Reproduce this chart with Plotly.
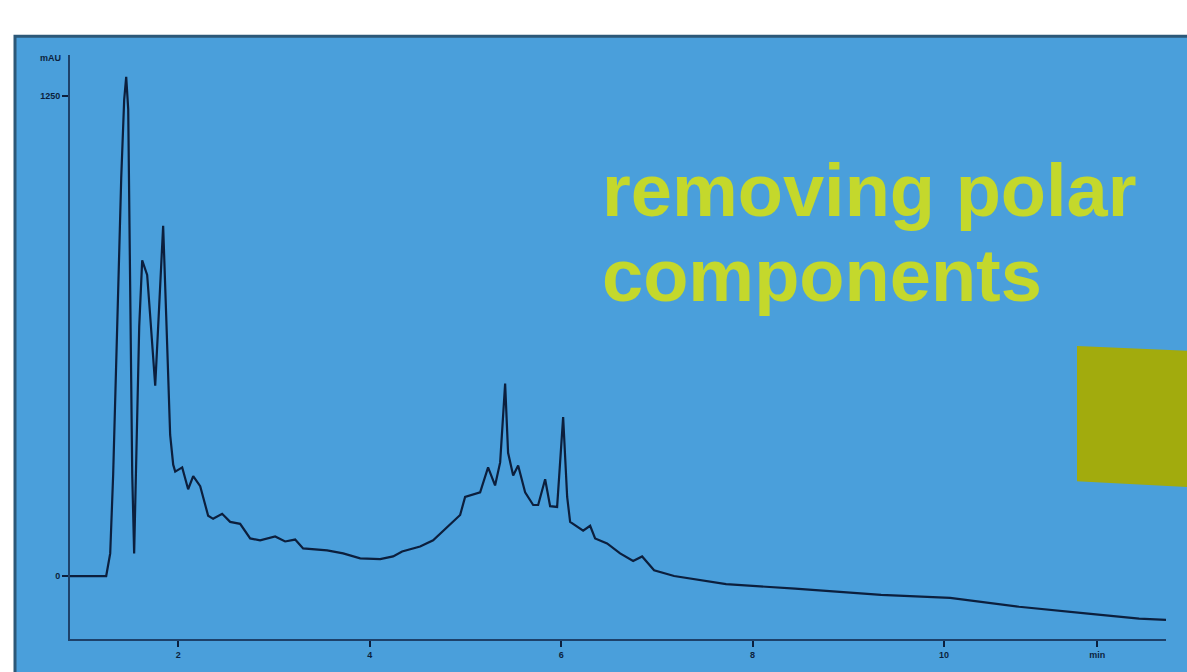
import plotly.graph_objects as go

# Retention time (min) and absorbance (mAU)
time_min = [0.87, 1.248, 1.290, 1.321, 1.363, 1.405, 1.436, 1.457, 1.478, 1.499, 1.520, 1.540,
            1.561, 1.593, 1.624, 1.676, 1.708, 1.760, 1.791, 1.843, 1.875, 1.916, 1.948, 1.969,
            2.042, 2.104, 2.157, 2.230, 2.313, 2.365, 2.459, 2.543, 2.647, 2.752, 2.856, 3.013,
            3.117, 3.222, 3.305, 3.556, 3.723, 3.901, 4.110, 4.245, 4.339, 4.527, 4.663, 4.945,
            4.997, 5.154, 5.237, 5.310, 5.363, 5.415, 5.446, 5.499, 5.551, 5.624, 5.708, 5.760,
            5.833, 5.885, 5.958, 6.021, 6.063, 6.094, 6.230, 6.303, 6.355, 6.480, 6.616, 6.752,
            6.846, 6.971, 7.180, 7.723, 8.444, 9.342, 10.063, 10.783, 11.504, 12.037, 12.318]
absorbance_mau = [0, 0, 59, 265, 650, 1036, 1241, 1300, 1216, 727, 265, 59,
                  265, 650, 822, 784, 676, 496, 650, 912, 676, 368, 290, 272,
                  283, 226, 260, 234, 157, 149, 162, 141, 136, 98, 93, 103,
                  90, 95, 72, 67, 59, 46, 44, 51, 64, 77, 93, 159,
                  206, 218, 283, 236, 296, 501, 321, 262, 288, 218, 185, 185,
                  252, 182, 180, 414, 206, 141, 118, 131, 98, 85, 59, 39,
                  51, 15, 0, -21, -33, -49, -57, -80, -98, -111, -114]

x_tick_vals = [2, 4, 6, 8, 10, 11.6]
x_tick_text = ["2", "4", "6", "8", "10", "min"]
y_tick_vals = [0, 1250]
y_tick_text = ["0", "1250"]
title_lines = ["removing polar", "components"]

BLUE = "#4a9fdb"
INK = "#0c1f3d"
AXIS = "#1d416a"
TEXT_COL = "#c4d82c"

fig = go.Figure()
fig.add_trace(go.Scatter(x=time_min, y=absorbance_mau, mode="lines",
                         line=dict(color=INK, width=2.2), hoverinfo="skip"))

W, H = 1187, 672
L, R, T, B = 70, 21, 55, 25
pw, ph = W - L - R, H - T - B


def px(xp):
    return (xp - L) / pw


def py(yp):
    return (H - B - yp) / ph


shapes = [
    dict(type="rect", xref="paper", yref="paper", x0=px(15), x1=px(1200), y0=py(690), y1=py(36),
         fillcolor=BLUE, line=dict(color="#2c5878", width=3), layer="below"),
    dict(type="path", xref="paper", yref="paper",
         path=f"M {px(1077)} {py(350)} L {px(1190)} {py(355)} L {px(1190)} {py(493)} L {px(1077)} {py(487)} Z",
         fillcolor="#a2ab0d", line=dict(width=0), layer="above"),
]

title_font = dict(family="Liberation Sans, Arial", size=74, color=TEXT_COL)
annotations = [
    dict(text=f"<b>{title_lines[0]}</b>", xref="paper", yref="paper", x=px(600), y=py(192),
         xanchor="left", yanchor="middle", showarrow=False, font=title_font),
    dict(text=f"<b>{title_lines[1]}</b>", xref="paper", yref="paper", x=px(600), y=py(279),
         xanchor="left", yanchor="middle", showarrow=False, font=title_font),
    dict(text="<b>mAU</b>", xref="paper", yref="paper", x=px(63), y=py(58), xanchor="right",
         yanchor="middle", showarrow=False,
         font=dict(family="Liberation Sans, Arial", size=9, color=INK)),
]

tick_font = dict(family="Liberation Sans, Arial", size=9, color=INK, weight="bold")

fig.update_layout(
    width=W, height=H,
    margin=dict(l=L, r=R, t=T, b=B),
    paper_bgcolor="white",
    plot_bgcolor="rgba(0,0,0,0)",
    showlegend=False,
    shapes=shapes,
    annotations=annotations,
    xaxis=dict(range=[0.87, 12.318], showgrid=False, zeroline=False, showline=True,
               linecolor=AXIS, linewidth=2, ticks="outside", ticklen=6, tickwidth=2,
               tickcolor=INK, tickvals=x_tick_vals, ticktext=x_tick_text, tickfont=tick_font),
    yaxis=dict(range=[-164, 1357], showgrid=False, zeroline=False, showline=True,
               linecolor=AXIS, linewidth=2, ticks="outside", ticklen=6, tickwidth=2,
               tickcolor=INK, tickvals=y_tick_vals, ticktext=y_tick_text, tickfont=tick_font),
)

fig.write_html("out.html")
